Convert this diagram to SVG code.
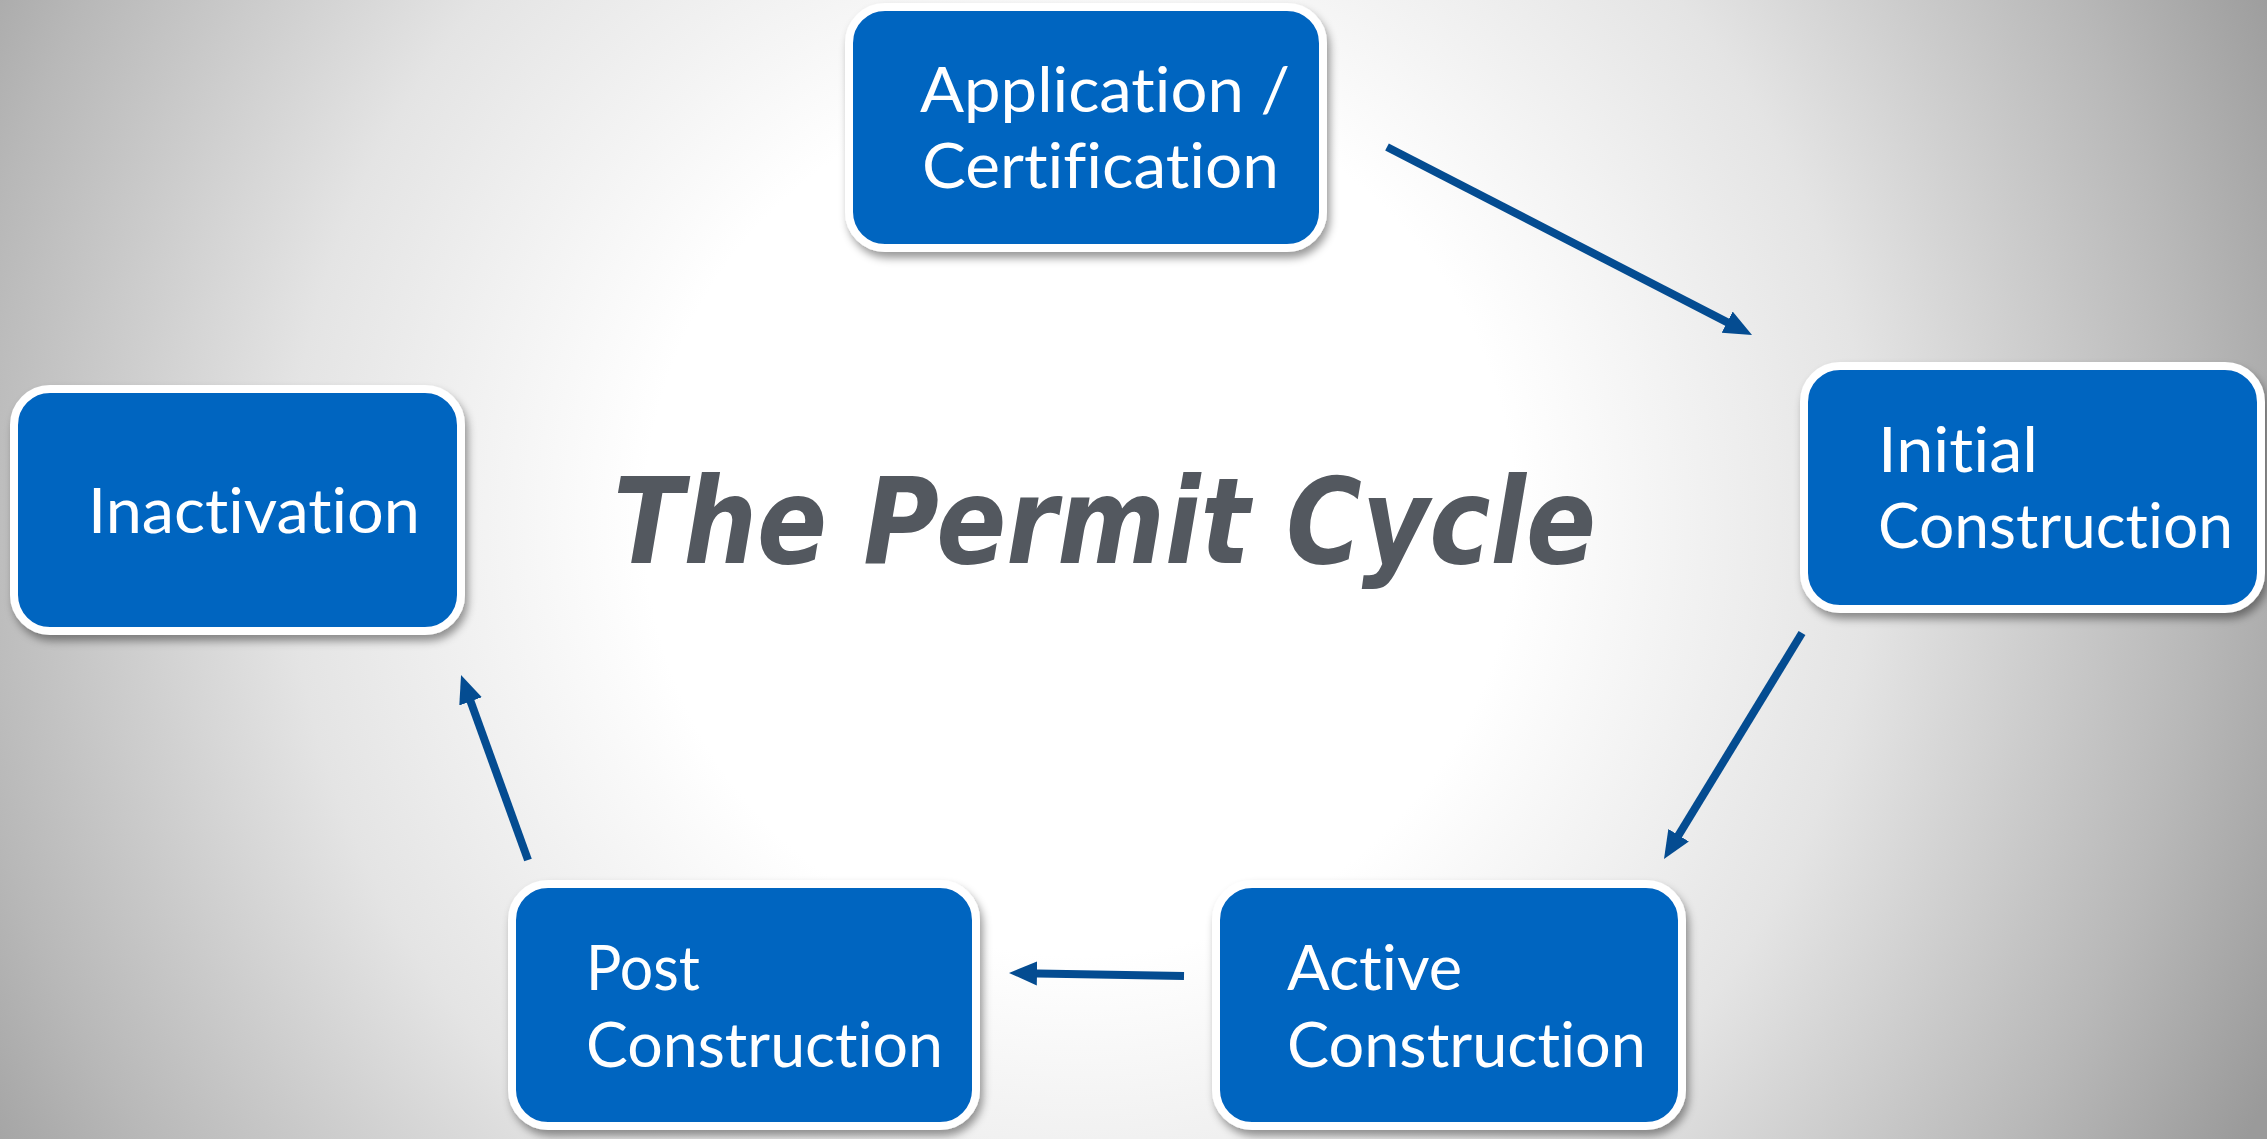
<svg xmlns="http://www.w3.org/2000/svg" width="2267" height="1139" viewBox="0 0 2267 1139">
<defs>
  <radialGradient id="bg" gradientUnits="userSpaceOnUse" cx="1080" cy="520" r="1320">
    <stop offset="0" stop-color="#ffffff"/>
    <stop offset="0.33" stop-color="#ffffff"/>
    <stop offset="0.6" stop-color="#e4e4e4"/>
    <stop offset="0.85" stop-color="#b8b8b8"/>
    <stop offset="1" stop-color="#9a9a9a"/>
  </radialGradient>
  <filter id="sh" x="-10%" y="-10%" width="125%" height="130%">
    <feDropShadow dx="3" dy="6" stdDeviation="4" flood-color="#000" flood-opacity="0.4"/>
  </filter>
  <marker id="ah" markerUnits="userSpaceOnUse" markerWidth="30" markerHeight="30" viewBox="0 0 30 30" refX="14" refY="15" orient="auto">
    <path d="M0,3 L28,15 L0,27 Z" fill="#044c91"/>
  </marker>
  <style>
    .box { fill: #0565c0; stroke: #ffffff; stroke-width: 8; filter: url(#sh); }
    .lbl { font-family: Lato, "Noto Sans", sans-serif; font-size: 62px; fill: #ffffff; font-variant-ligatures: none; font-feature-settings: "liga" 0, "clig" 0, "dlig" 0; }
    .con { stroke: #044c91; stroke-width: 8; fill: none; marker-end: url(#ah); }
    .title { font-family: "DejaVu Sans", "Noto Sans", sans-serif; font-weight: bold; font-style: italic; font-size: 120px; fill: #53585f; }
  </style>
</defs>
<rect x="0" y="0" width="2267" height="1139" fill="url(#bg)"/>

<text class="title" x="613" y="563" textLength="983" lengthAdjust="spacingAndGlyphs">The Permit Cycle</text>

<g id="connectors">
  <line class="con" x1="1387" y1="147" x2="1739.6" y2="328.6"/>
  <line class="con" x1="1802" y1="633" x2="1671.3" y2="847.1"/>
  <line class="con" x1="1184" y1="976" x2="1023" y2="973.2"/>
  <line class="con" x1="528" y1="860" x2="465.8" y2="688.2"/>
</g>

<g id="node-application">
  <rect class="box" x="849" y="7" width="474" height="241" rx="36"/>
  <text class="lbl" x="920" y="112" textLength="370" lengthAdjust="spacingAndGlyphs">Application /</text>
  <text class="lbl" x="922" y="188" textLength="357" lengthAdjust="spacingAndGlyphs">Certification</text>
</g>

<g id="node-initial">
  <rect class="box" x="1804" y="366" width="457" height="243" rx="36"/>
  <text class="lbl" x="1878" y="472" textLength="160" lengthAdjust="spacingAndGlyphs">Initial</text>
  <text class="lbl" x="1878" y="548" textLength="355" lengthAdjust="spacingAndGlyphs">Construction</text>
</g>

<g id="node-active">
  <rect class="box" x="1216" y="884" width="466" height="242" rx="36"/>
  <text class="lbl" x="1287" y="990" textLength="175" lengthAdjust="spacingAndGlyphs">Active</text>
  <text class="lbl" x="1287" y="1067" textLength="359" lengthAdjust="spacingAndGlyphs">Construction</text>
</g>

<g id="node-post">
  <rect class="box" x="512" y="884" width="464" height="242" rx="36"/>
  <text class="lbl" x="586" y="990" textLength="114" lengthAdjust="spacingAndGlyphs">Post</text>
  <text class="lbl" x="586" y="1067" textLength="357" lengthAdjust="spacingAndGlyphs">Construction</text>
</g>

<g id="node-inactivation">
  <rect class="box" x="14" y="389" width="447" height="242" rx="36"/>
  <text class="lbl" x="88" y="533" textLength="332" lengthAdjust="spacingAndGlyphs">Inactivation</text>
</g>
</svg>
